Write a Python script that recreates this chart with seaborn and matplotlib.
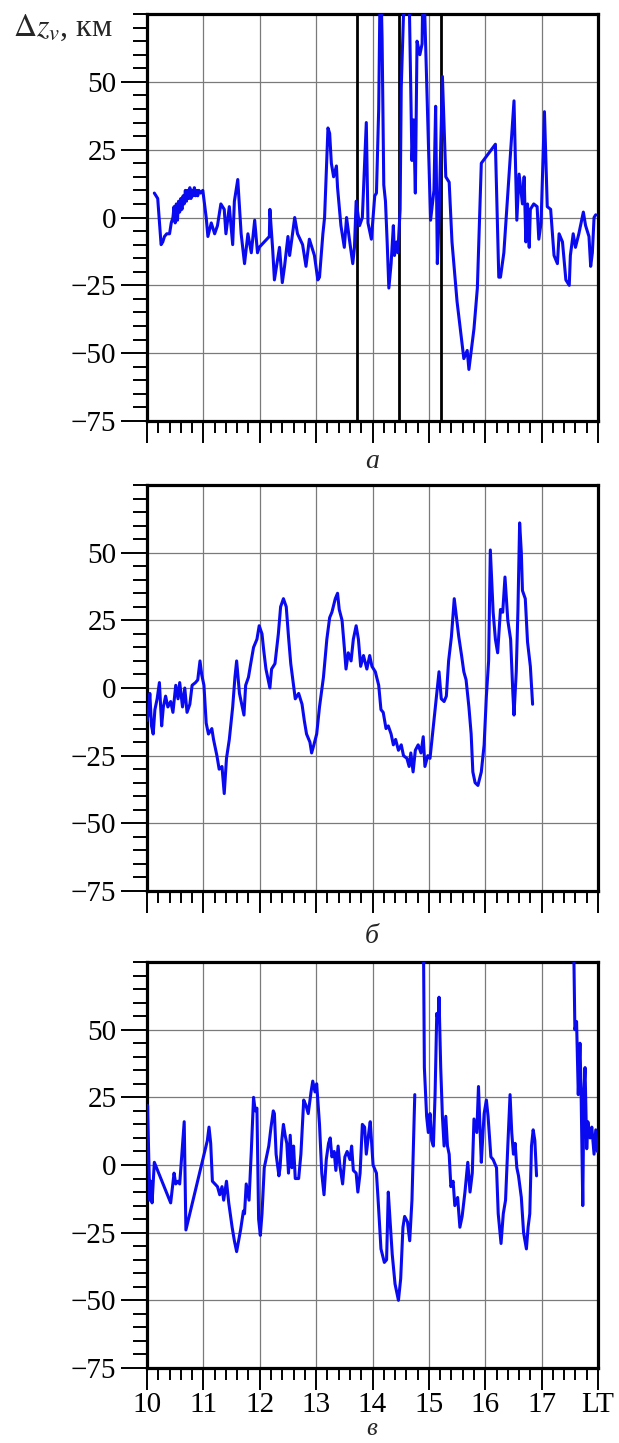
import numpy as np
import pandas as pd
import matplotlib
matplotlib.use("Agg")
import matplotlib.pyplot as plt
import seaborn as sns
from matplotlib.ticker import MultipleLocator, FixedLocator

# ---------------- data ----------------
t_a = [10.13, 10.16, 10.19, 10.25, 10.28, 10.31, 10.35, 10.40, 10.43, 10.46, 10.48, 10.50, 10.52, 10.54,
       10.56, 10.58, 10.60, 10.62, 10.64, 10.66, 10.68, 10.70, 10.72, 10.74, 10.76, 10.78, 10.80, 10.82,
       10.84, 10.86, 10.88, 10.90, 10.92, 10.95, 10.99, 11.05, 11.08, 11.14, 11.20, 11.25, 11.31, 11.37,
       11.40, 11.46, 11.52, 11.55, 11.61, 11.67, 11.73, 11.79, 11.85, 11.91, 11.96, 11.99, 12.17, 12.18,
       12.23, 12.26, 12.32, 12.35, 12.40, 12.44, 12.50, 12.53, 12.62, 12.67, 12.76, 12.82, 12.88, 12.97,
       13.03, 13.06, 13.12, 13.15, 13.21, 13.24, 13.27, 13.31, 13.36, 13.38, 13.44, 13.50, 13.54, 13.59,
       13.65, 13.68, 13.71, 13.77, 13.82, 13.89, 13.92, 13.98, 14.04, 14.07, 14.11, 14.14, 14.17, 14.20,
       14.23, 14.26, 14.29, 14.33, 14.37, 14.39, 14.43, 14.45, 14.49, 14.51, 14.58, 14.64, 14.70, 14.73,
       14.76, 14.79, 14.84, 14.88, 14.90, 15.03, 15.09, 15.12, 15.15, 15.18, 15.24, 15.30, 15.36, 15.41,
       15.50, 15.62, 15.68, 15.71, 15.80, 15.86, 15.93, 16.18, 16.24, 16.27, 16.33, 16.51, 16.56, 16.60,
       16.66, 16.69, 16.72, 16.75, 16.78, 16.80, 16.86, 16.92, 16.95, 16.99, 17.05, 17.10, 17.16, 17.22,
       17.28, 17.31, 17.37, 17.43, 17.49, 17.51, 17.56, 17.60, 17.66, 17.74, 17.78, 17.84, 17.87, 17.90,
       17.93, 17.96]
dz_a = [9, 8, 7, -10, -9, -7, -6, -6, -2, 0, 4, -2, 5, -1,
        6, 2, 7, 3, 8, 5, 10, 6, 10, 7, 11, 7, 10, 8,
        11, 8, 10, 8, 10, 9, 10, 0, -7, -2, -6, -3, 5, 3,
        -6, 4, -10, 6, 14, -6, -17, -6, -13, -1, -13, -11, -7, 3,
        -12, -23, -15, -11, -24, -18, -7, -14, 0, -6, -10, -18, -8, -14,
        -23, -22, -6, 0, 33, 31, 20, 15, 19, 11, -3, -11, 0, -8,
        -17, -11, 6, -3, 0, 35, -2, -8, 8, 9, 40, 95, 66, 12,
        6, -9, -26, -17, -3, -14, -9, -13, 3, 48, 95, 95, 21, 36,
        9, 65, 60, 64, 95, -1, 10, 41, -17, 0, 52, 15, 13, -9,
        -31, -52, -49, -56, -41, -26, 20, 27, -22, -22, -13, 43, -1, 16,
        5, 15, -9, 5, -11, 3, 5, 4, -8, -2, 39, 4, 3, -14,
        -17, -6, -9, -23, -25, -14, -6, -11, -6, 2, -3, -7, -18, -13,
        0, 1]
marks_a = [13.72, 14.47, 15.21]

t_b = [10.00, 10.02, 10.05, 10.08, 10.11, 10.14, 10.18, 10.22, 10.26, 10.29, 10.33, 10.37, 10.42, 10.46,
       10.51, 10.55, 10.58, 10.63, 10.67, 10.71, 10.76, 10.80, 10.86, 10.90, 10.94, 10.97, 11.01, 11.05,
       11.09, 11.15, 11.18, 11.24, 11.28, 11.33, 11.37, 11.41, 11.46, 11.52, 11.56, 11.59, 11.64, 11.68,
       11.72, 11.75, 11.80, 11.84, 11.89, 11.95, 11.99, 12.04, 12.07, 12.11, 12.15, 12.18, 12.21, 12.27,
       12.33, 12.37, 12.42, 12.47, 12.51, 12.55, 12.60, 12.63, 12.69, 12.75, 12.79, 12.83, 12.89, 12.92,
       12.96, 13.01, 13.06, 13.13, 13.19, 13.24, 13.28, 13.34, 13.38, 13.41, 13.46, 13.50, 13.53, 13.57,
       13.62, 13.66, 13.71, 13.75, 13.79, 13.84, 13.90, 13.95, 13.99, 14.05, 14.11, 14.15, 14.19, 14.24,
       14.28, 14.33, 14.37, 14.41, 14.46, 14.51, 14.55, 14.61, 14.65, 14.68, 14.72, 14.76, 14.81, 14.86,
       14.90, 14.93, 14.98, 15.02, 15.08, 15.14, 15.18, 15.22, 15.27, 15.31, 15.35, 15.40, 15.45, 15.49,
       15.53, 15.58, 15.62, 15.66, 15.71, 15.75, 15.78, 15.82, 15.87, 15.93, 15.98, 16.02, 16.06, 16.09,
       16.14, 16.18, 16.22, 16.27, 16.31, 16.35, 16.40, 16.45, 16.49, 16.51, 16.55, 16.58, 16.61, 16.64,
       16.66, 16.71, 16.75, 16.80, 16.84]
dz_b = [-12, -10, -2, -14, -17, -8, -4, 2, -14, -7, -3, -7, -5, -9,
        1, -4, 2, -7, 0, -9, -6, 1, 2, 3, 10, 5, 1, -13,
        -17, -15, -19, -25, -30, -29, -39, -26, -19, -7, 4, 10, -2, -6,
        -10, 1, 4, 9, 15, 18, 23, 20, 14, 7, 3, 0, 7, 9,
        20, 30, 33, 30, 19, 9, 1, -4, -2, -6, -12, -17, -20, -24,
        -21, -17, -7, 4, 18, 26, 28, 33, 35, 29, 25, 15, 7, 13,
        10, 18, 23, 18, 8, 12, 7, 12, 8, 6, 1, -8, -9, -15,
        -14, -17, -21, -19, -23, -21, -25, -26, -29, -24, -31, -23, -21, -24,
        -18, -29, -25, -26, -14, -2, 6, -4, -5, -3, 10, 19, 33, 26,
        19, 12, 6, 3, -7, -17, -31, -35, -36, -31, -21, -3, 10, 51,
        28, 18, 13, 29, 28, 41, 25, 18, -2, -10, 6, 29, 61, 50,
        36, 33, 17, 8, -6]

t_c1 = [10.00, 10.01, 10.03, 10.05, 10.07, 10.09, 10.13, 10.42, 10.48, 10.51, 10.55, 10.58, 10.66, 10.69,
        11.07, 11.10, 11.13, 11.16, 11.25, 11.29, 11.33, 11.36, 11.41, 11.45, 11.51, 11.55, 11.59, 11.66,
        11.71, 11.73, 11.76, 11.81, 11.85, 11.89, 11.92, 11.95, 11.98, 12.01, 12.04, 12.08, 12.12, 12.16,
        12.20, 12.24, 12.26, 12.29, 12.34, 12.36, 12.39, 12.42, 12.45, 12.48, 12.51, 12.54, 12.57, 12.60,
        12.63, 12.69, 12.73, 12.78, 12.82, 12.86, 12.91, 12.94, 12.98, 13.01, 13.06, 13.10, 13.14, 13.18,
        13.22, 13.25, 13.28, 13.32, 13.35, 13.39, 13.42, 13.47, 13.51, 13.55, 13.60, 13.63, 13.66, 13.71,
        13.74, 13.78, 13.82, 13.86, 13.89, 13.94, 13.96, 14.01, 14.07, 14.10, 14.15, 14.21, 14.25, 14.28,
        14.31, 14.35, 14.40, 14.43, 14.46, 14.50, 14.54, 14.57, 14.62, 14.66, 14.70, 14.75]
dz_c1 = [1, 22, 4, -13, -6, -14, 1, -14, -3, -7, -6, -7, 16, -24,
         9, 14, 8, -6, -8, -11, -8, -13, -6, -14, -23, -28, -32, -24,
         -17, -18, -7, -13, 5, 25, 20, 21, -20, -26, -18, -1, 3, 7,
         14, 20, 19, 4, -4, -1, 9, 15, 11, 8, -3, 11, -1, 7,
         -5, -5, 4, 24, 22, 19, 27, 31, 27, 30, 15, -3, -11, 2,
         8, 10, 3, 5, -2, 7, 0, -7, 3, 5, 2, 7, -2, -3,
         -10, -3, 15, 14, 4, 13, 16, 0, -3, -13, -31, -36, -35, -10,
         -20, -33, -44, -47, -50, -42, -23, -19, -21, -28, -13, 26]
t_c2 = [14.90, 14.92, 14.96, 14.99, 15.02, 15.05, 15.08, 15.11, 15.14, 15.17, 15.18, 15.21, 15.24, 15.27,
        15.30, 15.33, 15.36, 15.39, 15.43, 15.46, 15.51, 15.55, 15.59, 15.64, 15.69, 15.73, 15.77, 15.80,
        15.85, 15.88, 15.91, 15.93, 15.98, 16.02, 16.05, 16.10, 16.14, 16.20, 16.23, 16.28, 16.32, 16.36,
        16.40, 16.44, 16.47, 16.50, 16.53, 16.56, 16.59, 16.64, 16.68, 16.73, 16.76, 16.79, 16.82, 16.85,
        16.88, 16.91]
dz_c2 = [95, 36, 18, 12, 19, 9, 7, 26, 56, 53, 62, 36, 18, 7,
         18, 7, 4, -8, -6, -15, -12, -23, -19, -10, 1, -10, -3, 17,
         12, 29, 12, 1, 19, 24, 18, 3, 2, -1, -18, -29, -18, -13,
         7, 26, 12, 4, 8, -1, -4, -12, -25, -31, -23, -18, 7, 13,
         9, -4]
t_c3 = [17.56, 17.59, 17.62, 17.65, 17.68, 17.70, 17.73, 17.75, 17.77, 17.80, 17.82, 17.86, 17.89, 17.93,
        17.96, 17.99]
dz_c3 = [95, 50, 53, 26, 45, 27, -15, 27, 36, 6, 16, 10, 14, 4, 13, 5]

x_ticks = [10, 11, 12, 13, 14, 15, 16, 17, 18]
x_ticklabels = ["10", "11", "12", "13", "14", "15", "16", "17", "LT"]
y_ticks = [-75, -50, -25, 0, 25, 50]
panel_letters = ["а", "б", "в"]

# ---------------- style ----------------
sns.set_theme(style="ticks")
plt.rcParams["font.family"] = ["Liberation Serif", "DejaVu Serif"]
plt.rcParams["mathtext.fontset"] = "stix"
plt.rcParams["axes.unicode_minus"] = True

W, H = 619, 1443
fig = plt.figure(figsize=(W / 100, H / 100), dpi=100)

left = 147 / W
width = (598 - 147) / W
tops = [14, 485, 962]
bottoms = [421, 891, 1368]

df_a = pd.DataFrame({"t": t_a, "dz": dz_a, "seg": 0})
df_b = pd.DataFrame({"t": t_b, "dz": dz_b, "seg": 0})
df_c = pd.concat([
    pd.DataFrame({"t": t_c1, "dz": dz_c1, "seg": 0}),
    pd.DataFrame({"t": t_c2, "dz": dz_c2, "seg": 1}),
    pd.DataFrame({"t": t_c3, "dz": dz_c3, "seg": 2}),
], ignore_index=True)
frames = [df_a, df_b, df_c]
letter_base = [468, 943, 1435]
letter_fs = [20, 20, 18]

FS = 21
blue = "#0A0AF0"
for i, df in enumerate(frames):
    ax = fig.add_axes([left, 1 - bottoms[i] / H, width, (bottoms[i] - tops[i]) / H])
    ax.set_axisbelow(True)
    ax.grid(True, which="major", color="#7a7a7a", lw=0.9)
    if i == 0:
        for m in marks_a:
            ax.axvline(m, color="black", lw=2.0, zorder=1.8)
    sns.lineplot(data=df, x="t", y="dz", units="seg", estimator=None, sort=False,
                 color=blue, lw=2.2, ax=ax, zorder=3)
    ax.set_xlim(10, 18)
    ax.set_ylim(-75, 75)
    ax.set_xlabel("")
    ax.set_ylabel("")
    ax.xaxis.set_major_locator(FixedLocator(x_ticks))
    ax.xaxis.set_minor_locator(MultipleLocator(0.2))
    ax.yaxis.set_major_locator(FixedLocator(y_ticks))
    ax.yaxis.set_minor_locator(MultipleLocator(5))
    ax.set_yticklabels([f"{v}".replace("-", "\u2212") for v in y_ticks], fontsize=FS)
    if i == 2:
        ax.set_xticklabels(x_ticklabels, fontsize=FS)
    else:
        ax.tick_params(axis="x", labelbottom=False)
    ax.tick_params(axis="x", which="major", direction="out", length=16, width=1.4, pad=1.5, colors="black")
    ax.tick_params(axis="x", which="minor", direction="out", length=8.5, width=1.4, colors="black")
    ax.tick_params(axis="y", which="major", direction="out", length=19, width=1.4, pad=3, colors="black")
    ax.tick_params(axis="y", which="minor", direction="out", length=10, width=1.4, colors="black")
    for s in ax.spines.values():
        s.set_visible(True)
        s.set_linewidth(2.3)
        s.set_color("black")
    fig.text(372 / W, 1 - letter_base[i] / H, panel_letters[i], fontsize=letter_fs[i], style="italic",
             ha="center", va="baseline")

fig.text(13 / W, 1 - 36 / H, r"$\Delta z_v$, км", fontsize=23, ha="left", va="baseline")

fig.savefig("out.png", dpi=100, facecolor="white")
